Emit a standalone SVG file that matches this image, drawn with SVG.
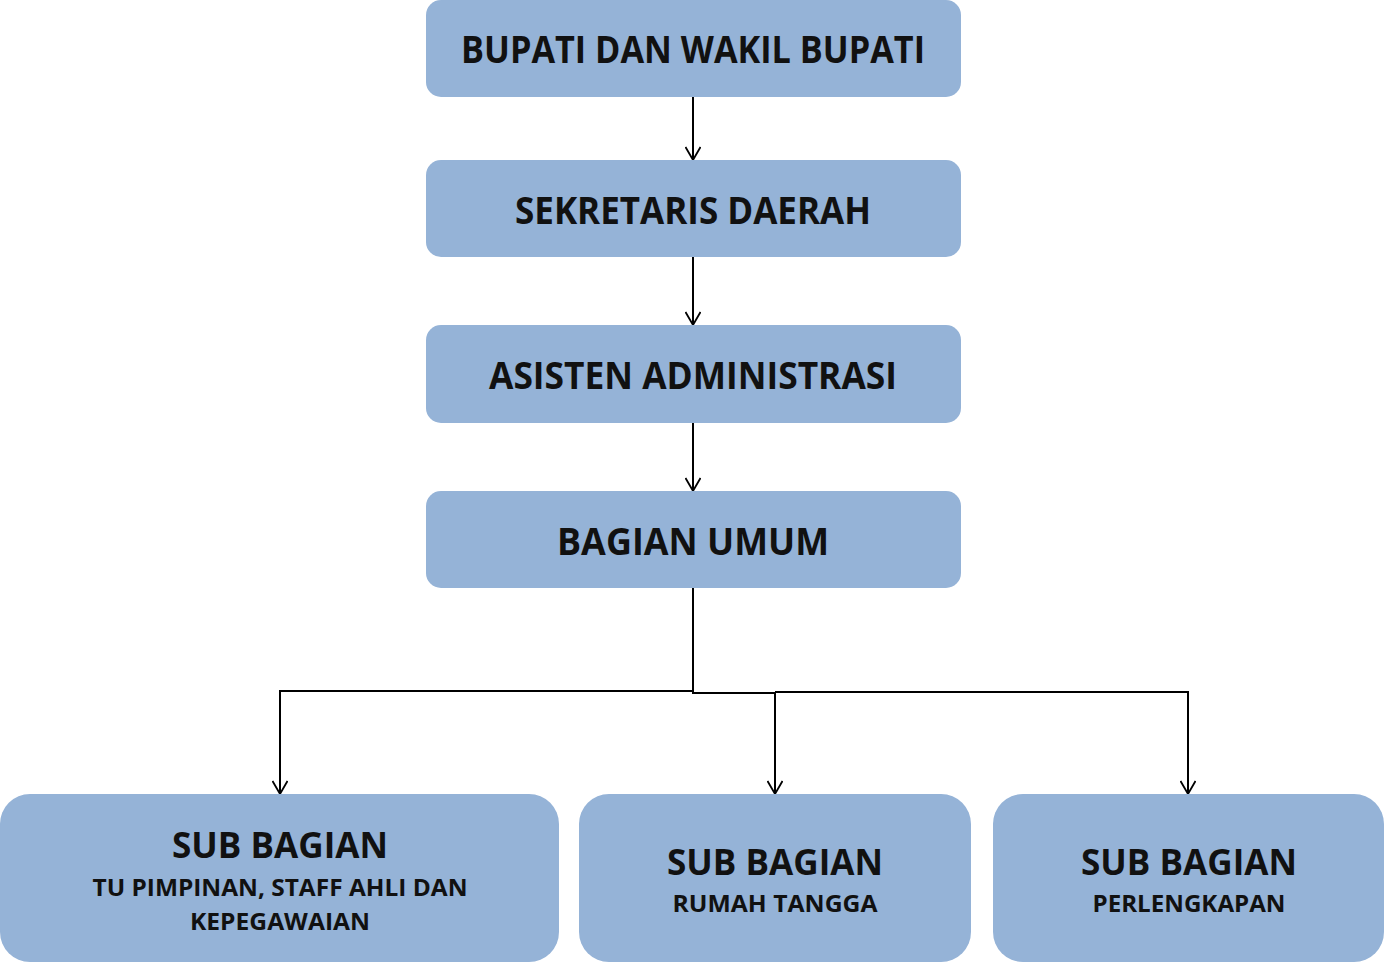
<svg xmlns="http://www.w3.org/2000/svg" width="1385" height="963" viewBox="0 0 1385 963">
<defs>
<style>
.box{fill:#95B3D7;}
.t{font-family:"Open Sans","Noto Sans","Liberation Sans",sans-serif;font-weight:700;fill:#111111;text-anchor:middle;}
.big{font-size:37px;}
.mid{font-size:35px;}
.sm{font-size:23px;}
.ln{fill:none;stroke:#000;stroke-width:2;}
</style>
<marker id="arr" viewBox="0 0 16 16" markerWidth="16" markerHeight="16" refX="14" refY="8" orient="auto" markerUnits="userSpaceOnUse">
<path d="M1,0.5 L14,8 L1,15.5" fill="none" stroke="#000" stroke-width="1.8"/>
</marker>
</defs>
<rect width="1385" height="963" fill="#fff"/>
<g id="connectors">
<line class="ln" x1="693" y1="97" x2="693" y2="160" marker-end="url(#arr)"/>
<line class="ln" x1="693" y1="257" x2="693" y2="325" marker-end="url(#arr)"/>
<line class="ln" x1="693" y1="423" x2="693" y2="491" marker-end="url(#arr)"/>
<polyline class="ln" points="693,588 693,691 280,691 280,794" marker-end="url(#arr)"/>
<polyline class="ln" points="693,691 693,693 775,693 775,794" marker-end="url(#arr)"/>
<polyline class="ln" points="775,692 1188,692 1188,794" marker-end="url(#arr)"/>
</g>
<g id="bupati">
<rect class="box" x="426" y="0" width="535" height="97" rx="15"/>
<text class="t big" x="693" y="63" textLength="464" lengthAdjust="spacingAndGlyphs">BUPATI DAN WAKIL BUPATI</text>
</g>
<g id="sekda">
<rect class="box" x="426" y="160" width="535" height="97" rx="15"/>
<text class="t big" x="693" y="224" textLength="356" lengthAdjust="spacingAndGlyphs">SEKRETARIS DAERAH</text>
</g>
<g id="asisten">
<rect class="box" x="426" y="325" width="535" height="98" rx="15"/>
<text class="t big" x="693" y="389" textLength="408" lengthAdjust="spacingAndGlyphs">ASISTEN ADMINISTRASI</text>
</g>
<g id="bagian-umum">
<rect class="box" x="426" y="491" width="535" height="97" rx="15"/>
<text class="t big" x="693" y="555" textLength="272" lengthAdjust="spacingAndGlyphs">BAGIAN UMUM</text>
</g>
<g id="sub-tu">
<rect class="box" x="0" y="794" width="559" height="168" rx="30"/>
<text class="t mid" x="280" y="858" textLength="216" lengthAdjust="spacingAndGlyphs">SUB BAGIAN</text>
<text class="t sm" x="280" y="896" textLength="375" lengthAdjust="spacingAndGlyphs">TU PIMPINAN, STAFF AHLI DAN</text>
<text class="t sm" x="280" y="930" textLength="180" lengthAdjust="spacingAndGlyphs">KEPEGAWAIAN</text>
</g>
<g id="sub-rt">
<rect class="box" x="579" y="794" width="392" height="168" rx="30"/>
<text class="t mid" x="775" y="875" textLength="216" lengthAdjust="spacingAndGlyphs">SUB BAGIAN</text>
<text class="t sm" x="775" y="912" textLength="205" lengthAdjust="spacingAndGlyphs">RUMAH TANGGA</text>
</g>
<g id="sub-perl">
<rect class="box" x="993" y="794" width="391" height="168" rx="30"/>
<text class="t mid" x="1189" y="875" textLength="216" lengthAdjust="spacingAndGlyphs">SUB BAGIAN</text>
<text class="t sm" x="1189" y="912" textLength="193" lengthAdjust="spacingAndGlyphs">PERLENGKAPAN</text>
</g>
</svg>
